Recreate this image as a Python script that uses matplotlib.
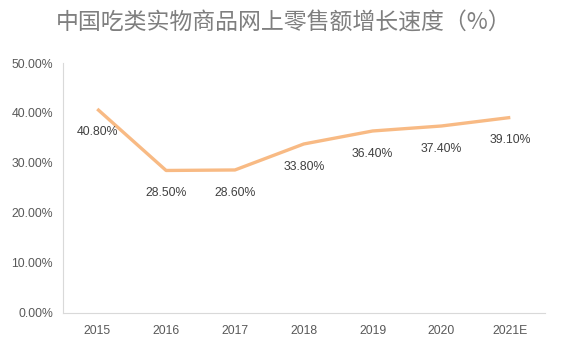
import matplotlib.pyplot as plt
from matplotlib.ticker import FuncFormatter

plt.rcParams['font.family'] = ['Noto Sans CJK SC', 'DejaVu Sans']

# data
years = ["2015", "2016", "2017", "2018", "2019", "2020", "2021E"]
growth = [40.8, 28.5, 28.6, 33.8, 36.4, 37.4, 39.1]

fig = plt.figure(figsize=(5.61, 3.52), dpi=100)
ax = fig.add_axes([0.112, 0.111, 0.859, 0.710])

x = list(range(len(years)))
ax.plot(x, growth, color="#F8BA84", linewidth=2.4, solid_capstyle="butt")

for xi, v in zip(x, growth):
    ax.annotate(f"{v:.2f}%", (xi, v), xytext=(0, -12), textcoords="offset points",
                ha="center", va="top", fontsize=8.8, color="#404040",
                family="Liberation Sans")

ax.set_xlim(-0.5, len(years) - 0.5)
ax.set_ylim(0, 50)
ax.set_yticks([0, 10, 20, 30, 40, 50])
ax.yaxis.set_major_formatter(FuncFormatter(lambda v, p: f"{v:.2f}%"))
ax.set_xticks(x)
ax.set_xticklabels(years)

for s in ["top", "right"]:
    ax.spines[s].set_visible(False)
for s in ["left", "bottom"]:
    ax.spines[s].set_color("#D9D9D9")
    ax.spines[s].set_linewidth(0.8)

ax.tick_params(length=0, labelsize=8.8, labelcolor="#595959")
ax.tick_params(axis="y", pad=7)
ax.tick_params(axis="x", pad=9)
for lbl in ax.get_xticklabels() + ax.get_yticklabels():
    lbl.set_family("Liberation Sans")

fig.text(0.506, 0.935, "中国吃类实物商品网上零售额增长速度（%）", ha="center", va="center",
         fontsize=16.5, color="#7F7F7F", fontweight="light")

fig.savefig("out.png", dpi=100)
